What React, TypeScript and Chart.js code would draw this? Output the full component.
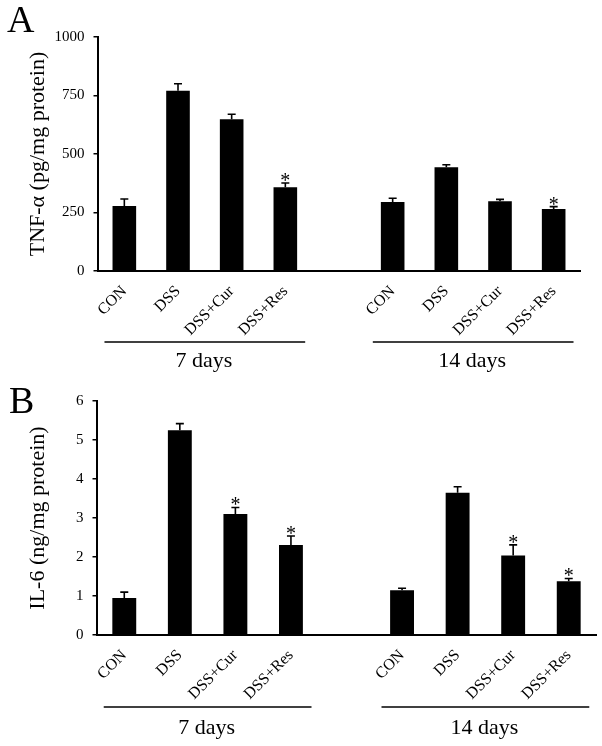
import React, { useEffect, useRef } from 'react';
import { Chart, registerables } from 'chart.js';

Chart.register(...registerables);

const categories = ['CON', 'DSS', 'DSS+Cur', 'DSS+Res', '', 'CON', 'DSS', 'DSS+Cur', 'DSS+Res'];
const groupLabels = ['7 days', '14 days'];
const groupRanges = [[0, 3], [5, 8]];

const tnfValues = [278, 770, 648, 358, null, 295, 443, 298, 265];
const tnfErrors = [30, 30, 22, 18, null, 16, 11, 8, 10];
const tnfSig = [false, false, false, true, false, false, false, false, true];
const tnfTicks = [0, 250, 500, 750, 1000];

const il6Values = [0.95, 5.25, 3.1, 2.31, null, 1.15, 3.65, 2.04, 1.38];
const il6Errors = [0.15, 0.17, 0.17, 0.23, null, 0.05, 0.15, 0.27, 0.07];
const il6Sig = [false, false, true, true, false, false, false, true, true];
const il6Ticks = [0, 1, 2, 3, 4, 5, 6];

const SERIF = '"Liberation Serif", "Times New Roman", serif';

type PanelCfg = {
  letter: string;
  title: string;
  values: (number | null)[];
  errors: (number | null)[];
  sig: boolean[];
  ticks: number[];
  h: number;
  left: number;
  right: number;
  top: number;
  bottom: number;
  barPct: number;
  lineY: number;
  textY: number;
  letterY: number;
  letterX: number;
  titleX: number;
};

const panels: PanelCfg[] = [
  {
    letter: 'A', title: 'TNF-α (pg/mg protein)', values: tnfValues, errors: tnfErrors, sig: tnfSig,
    ticks: tnfTicks, h: 373, left: 97.5, right: 580.5, top: 37, bottom: 271, barPct: 0.44,
    lineY: 342, textY: 366.5, letterY: 32, letterX: 7, titleX: 38,
  },
  {
    letter: 'B', title: 'IL-6 (ng/mg protein)', values: il6Values, errors: il6Errors, sig: il6Sig,
    ticks: il6Ticks, h: 373, left: 96.5, right: 596.5, top: 28, bottom: 262, barPct: 0.43,
    lineY: 334, textY: 361, letterY: 40, letterX: 9, titleX: 38,
  },
];

function makePlugin(cfg: PanelCfg) {
  return {
    id: 'annot' + cfg.letter,
    afterDatasetsDraw(chart: any) {
      const ctx = chart.ctx;
      const meta = chart.getDatasetMeta(0);
      const ys = chart.scales.y;
      ctx.save();
      ctx.strokeStyle = '#000';
      ctx.fillStyle = '#000';
      ctx.lineWidth = 1.6;
      cfg.values.forEach((v, i) => {
        if (v == null) return;
        const err = cfg.errors[i] || 0;
        const x = meta.data[i].x;
        const yTop = ys.getPixelForValue(v);
        const yErr = ys.getPixelForValue(v + err);
        ctx.beginPath();
        ctx.moveTo(x, yTop);
        ctx.lineTo(x, yErr);
        ctx.moveTo(x - 4, yErr);
        ctx.lineTo(x + 4, yErr);
        ctx.stroke();
        if (cfg.sig[i]) {
          ctx.font = `20px ${SERIF}`;
          ctx.textAlign = 'center';
          ctx.textBaseline = 'alphabetic';
          ctx.fillText('*', x, yErr + 4);
        }
      });
      ctx.restore();
    },
    afterDraw(chart: any) {
      const ctx = chart.ctx;
      const xs = chart.scales.x;
      const area = chart.chartArea;
      ctx.save();
      ctx.fillStyle = '#000';
      ctx.strokeStyle = '#000';
      const cw = xs.getPixelForValue(1) - xs.getPixelForValue(0);
      groupRanges.forEach((r, gi) => {
        const x0 = xs.getPixelForValue(r[0]) - 0.37 * cw;
        const x1 = xs.getPixelForValue(r[1]) + 0.37 * cw;
        ctx.lineWidth = 1.6;
        ctx.beginPath();
        ctx.moveTo(x0, cfg.lineY);
        ctx.lineTo(x1, cfg.lineY);
        ctx.stroke();
        ctx.font = `22px ${SERIF}`;
        ctx.textAlign = 'center';
        ctx.textBaseline = 'alphabetic';
        ctx.fillText(groupLabels[gi], (x0 + x1) / 2 - 1, cfg.textY);
      });
      ctx.font = `38px ${SERIF}`;
      ctx.textAlign = 'left';
      ctx.textBaseline = 'alphabetic';
      ctx.fillText(cfg.letter, cfg.letterX, cfg.letterY);
      ctx.translate(cfg.titleX, (area.top + area.bottom) / 2);
      ctx.rotate(-Math.PI / 2);
      ctx.font = `22px ${SERIF}`;
      ctx.textAlign = 'center';
      ctx.textBaseline = 'middle';
      ctx.fillText(cfg.title, 0, 0);
      ctx.restore();
    },
  };
}

function Panel({ cfg }: { cfg: PanelCfg }) {
  const ref = useRef<HTMLCanvasElement>(null);
  useEffect(() => {
    const chart = new Chart(ref.current as HTMLCanvasElement, {
      type: 'bar',
      data: {
        labels: categories,
        datasets: [
          {
            data: cfg.values as any,
            backgroundColor: '#000',
            borderWidth: 0,
            barPercentage: cfg.barPct,
            categoryPercentage: 1,
          },
        ],
      },
      options: {
        responsive: false,
        animation: false,
        devicePixelRatio: 1,
        layout: { padding: { top: cfg.top, right: 602 - cfg.right, bottom: 0, left: 0 } },
        plugins: { legend: { display: false }, tooltip: { enabled: false } },
        scales: {
          x: {
            grid: { display: false, drawTicks: false },
            border: { display: true, color: '#000', width: 2 },
            ticks: {
              autoSkip: false,
              maxRotation: 45,
              minRotation: 45,
              color: '#000',
              padding: 11,
              font: { family: SERIF, size: 16 },
            },
            afterFit: (s: any) => { s.height = cfg.h - cfg.bottom; },
          },
          y: {
            min: 0,
            max: cfg.ticks[cfg.ticks.length - 1],
            afterBuildTicks: (s: any) => { s.ticks = cfg.ticks.map((v) => ({ value: v })); },
            grid: { display: true, drawOnChartArea: false, drawTicks: true, tickLength: 4, color: '#000', lineWidth: 1.5 },
            border: { display: true, color: '#000', width: 2 },
            ticks: {
              color: '#000',
              padding: 9,
              font: { family: SERIF, size: 15 },
              callback: (v: any) => String(v),
            },
            afterFit: (s: any) => { s.width = cfg.left; },
          },
        },
      },
      plugins: [makePlugin(cfg)],
    });
    return () => chart.destroy();
  }, []);
  return (
    <canvas ref={ref} width={602} height={cfg.h} style={{ display: 'block', width: 602, height: cfg.h }} />
  );
}

export default function App() {
  return (
    <div style={{ position: 'absolute', left: 0, top: 0, width: 602, height: 746, background: '#fff' }}>
      {panels.map((p) => (
        <Panel key={p.letter} cfg={p} />
      ))}
    </div>
  );
}
